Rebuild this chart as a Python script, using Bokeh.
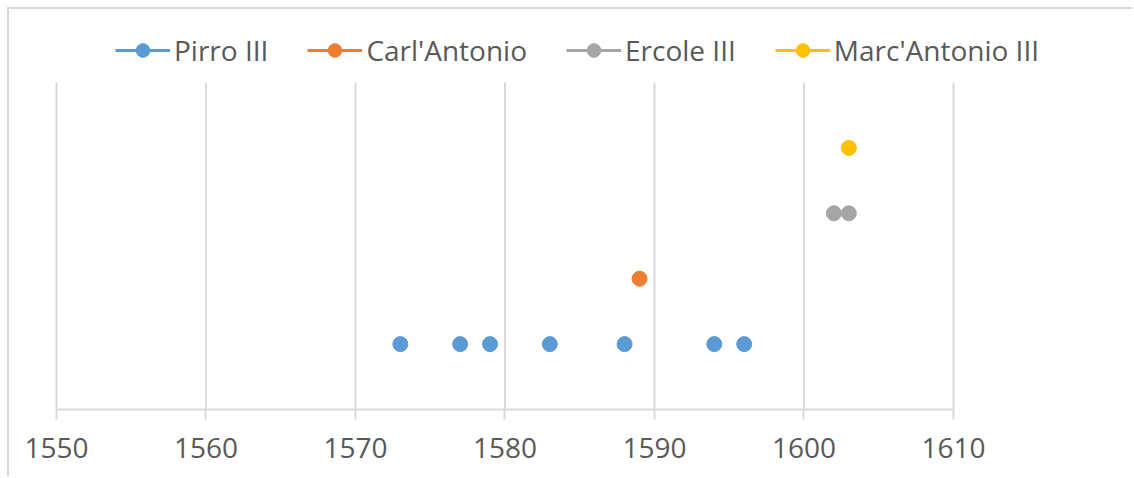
from bokeh.plotting import figure
from bokeh.models import Legend, LegendItem, Range1d, FixedTicker, ColumnDataSource
from bokeh.embed import file_html
from bokeh.resources import INLINE

# Data
series_names = ["Pirro III", "Carl'Antonio", "Ercole III", "Marc'Antonio III"]
pirro_x = [1573, 1577, 1579, 1583, 1588, 1594, 1596]
pirro_y = [1, 1, 1, 1, 1, 1, 1]
carl_x = [1589]
carl_y = [2]
ercole_x = [1602, 1603]
ercole_y = [3, 3]
marc_x = [1603]
marc_y = [4]
x_ticks = [1550, 1560, 1570, 1580, 1590, 1600, 1610]
y_max = 5

colors = ["#5B9BD5", "#ED7D31", "#A5A5A5", "#FFC000"]
FONT = "Open Sans"
TXT = "#595959"
GRID = "#D9D9D9"

W, H = 1125, 469
BL, BR, BB = 44, 2, 69
FRAME_W = W - BL - BR
FRAME_H = H - BB          # frame spans from top of figure down to the axis
PLOT_W = 897              # pixel width of the 1550..1610 band
PLOT_H = 327              # pixel height of the 0..y_max band
x0 = x_ticks[0] - 0.2
ppy = PLOT_W / (x_ticks[-1] - x_ticks[0])

p = figure(width=W, height=H, output_backend="svg", toolbar_location=None,
           x_range=Range1d(x0, x0 + FRAME_W / ppy), y_range=Range1d(0, y_max * FRAME_H / PLOT_H),
           min_border_left=BL, min_border_right=BR, min_border_top=0, min_border_bottom=BB)
p.styles = {"border-left": "2px solid #D9D9D9", "border-top": "2px solid #D9D9D9",
            "margin-left": "7px", "margin-top": "7px"}
p.outline_line_color = None
p.background_fill_color = "white"
p.border_fill_color = "white"

p.yaxis.visible = False
p.ygrid.grid_line_color = None
p.xgrid.grid_line_color = None
p.segment(x0=x_ticks, y0=[0] * len(x_ticks), x1=x_ticks, y1=[y_max] * len(x_ticks),
          line_color=GRID, line_width=2)
p.xaxis.ticker = FixedTicker(ticks=x_ticks)
p.xaxis.bounds = (x_ticks[0], x_ticks[-1])
p.xaxis.axis_line_color = GRID
p.xaxis.axis_line_width = 2
p.xaxis.major_tick_line_color = GRID
p.xaxis.major_tick_line_width = 2
p.xaxis.major_tick_out = 10
p.xaxis.major_tick_in = 0
p.xaxis.minor_tick_line_color = None
p.xaxis.major_label_text_font = FONT
p.xaxis.major_label_text_font_size = "28px"
p.xaxis.major_label_text_color = TXT
p.xaxis.major_label_standoff = 18

data = [(pirro_x, pirro_y), (carl_x, carl_y), (ercole_x, ercole_y), (marc_x, marc_y)]
items = []
for name, (xs, ys), c in zip(series_names, data, colors):
    src = ColumnDataSource(dict(x=xs, y=ys))
    sr = p.scatter("x", "y", source=src, size=15, marker="circle",
                   fill_color=c, line_color=c)
    lr = p.line(x=[float("nan")], y=[float("nan")], line_color=c, line_width=3)
    items.append(LegendItem(label=name, renderers=[lr, sr]))

legend = Legend(items=items, orientation="horizontal", location=(62, 340),
                glyph_width=55, glyph_height=34, spacing=39, padding=0, margin=0,
                label_text_font=FONT, label_text_font_size="28px",
                label_text_color=TXT, label_standoff=4,
                border_line_color=None, background_fill_alpha=0)
p.add_layout(legend, "center")

open("out.html", "w").write(file_html(p, INLINE))
